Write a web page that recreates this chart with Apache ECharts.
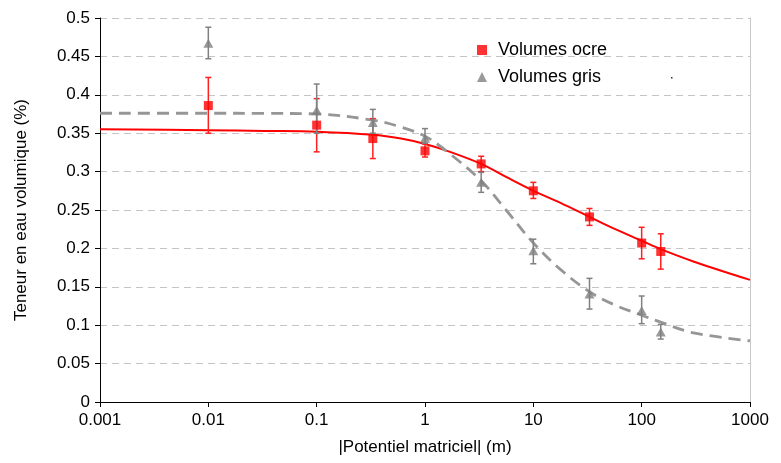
<!DOCTYPE html>
<html>
<head>
<meta charset="utf-8">
<script src="https://cdn.jsdelivr.net/npm/echarts@6/dist/echarts.min.js"></script>
<style>
html,body{margin:0;padding:0;background:#fff;}
#chart{width:781px;height:463px;}
</style>
</head>
<body>
<div id="chart"></div>
<script>
// Measured points (|Potentiel matriciel| in m)
var pointX = [0.01, 0.1, 0.33, 1, 3.3, 10, 33, 100, 150];

var ocreY    = [0.386, 0.3605, 0.343, 0.327, 0.310, 0.275, 0.241, 0.207, 0.196];
var ocreLow  = [0.350, 0.3257, 0.317, 0.319, 0.300, 0.265, 0.230, 0.1865, 0.173];
var ocreHigh = [0.4226, 0.395, 0.369, 0.336, 0.320, 0.286, 0.252, 0.2275, 0.219];

var grisY    = [0.467, 0.380, 0.364, 0.3435, 0.286, 0.197, 0.1405, 0.119, 0.091];
var grisLow  = [0.447, 0.350, 0.350, 0.337, 0.273, 0.180, 0.121, 0.102, 0.082];
var grisHigh = [0.488, 0.414, 0.381, 0.356, 0.299, 0.212, 0.161, 0.138, 0.101];

// Fitted curves
var curveX     = [0.001, 0.01, 0.033, 0.1, 0.33, 0.6, 1, 1.6, 3.3, 5.6, 10, 18, 33, 55, 100, 150, 300, 1000];
var curveOcre  = [0.355, 0.354, 0.353, 0.352, 0.348, 0.343, 0.336, 0.327, 0.310, 0.293, 0.275, 0.259, 0.241, 0.226, 0.210, 0.199, 0.183, 0.159];
var curveGris  = [0.376, 0.376, 0.3758, 0.375, 0.367, 0.358, 0.346, 0.326, 0.288, 0.250, 0.207, 0.172, 0.1435, 0.127, 0.113, 0.104, 0.090, 0.0796];

var xTicks = [0.001, 0.01, 0.1, 1, 10, 100, 1000];

function zip(a, b) { return a.map(function (v, i) { return [v, b[i]]; }); }
function zip3(a, b, c) { return a.map(function (v, i) { return [v, b[i], c[i]]; }); }

function errRender(color) {
  return function (params, api) {
    var x = api.value(0);
    var lo = api.coord([x, api.value(1)]);
    var hi = api.coord([x, api.value(2)]);
    var w = 3;
    var st = { stroke: color, lineWidth: 1.5 };
    return {
      type: 'group',
      children: [
        { type: 'line', shape: { x1: lo[0], y1: lo[1], x2: hi[0], y2: hi[1] }, style: st },
        { type: 'line', shape: { x1: lo[0] - w, y1: lo[1], x2: lo[0] + w, y2: lo[1] }, style: st },
        { type: 'line', shape: { x1: hi[0] - w, y1: hi[1], x2: hi[0] + w, y2: hi[1] }, style: st }
      ]
    };
  };
}

var font = 'Liberation Sans, Arial, sans-serif';
var chart = echarts.init(document.getElementById('chart'));
chart.setOption({
  animation: false,
  backgroundColor: '#fff',
  grid: { left: 100, right: 31, top: 18, bottom: 61 },
  legend: {
    orient: 'vertical',
    left: 472, top: 36,
    itemWidth: 10, itemHeight: 10, itemGap: 9,
    textStyle: { fontFamily: font, fontSize: 18, color: '#000', padding: [0, 0, 0, 6] },
    data: ['Volumes ocre', 'Volumes gris']
  },
  xAxis: {
    type: 'log', logBase: 10, min: 0.001, max: 1000,
    name: '|Potentiel matriciel| (m)', nameLocation: 'middle', nameGap: 37,
    nameTextStyle: { fontFamily: font, fontSize: 17, color: '#000' },
    axisLine: { lineStyle: { color: '#000', width: 1 } },
    axisTick: { show: true, length: 5, lineStyle: { color: '#000' } },
    axisLabel: { fontFamily: font, fontSize: 17, color: '#000', margin: 10,
      formatter: function (v) { var r = xTicks.filter(function (t) { return Math.abs(Math.log10(t) - Math.log10(v)) < 1e-6; }); return r.length ? String(r[0]) : ''; } },
    splitLine: { show: false },
    minorTick: { show: false }
  },
  yAxis: [{
    type: 'value', min: 0, max: 0.5, interval: 0.05,
    name: 'Teneur en eau volumique (%)', nameLocation: 'middle', nameGap: 70,
    nameTextStyle: { fontFamily: font, fontSize: 17, color: '#000' },
    axisLine: { show: true, lineStyle: { color: '#000', width: 1 } },
    axisTick: { show: true, length: 5, lineStyle: { color: '#000' } },
    axisLabel: { fontFamily: font, fontSize: 17, color: '#000', margin: 10,
      formatter: function (v) { return String(Math.round(v * 100) / 100); } },
    splitLine: { show: true, lineStyle: { color: '#c4c4c4', type: [7, 5], width: 1 } }
  }, {
    type: 'value', min: 0, max: 0.5, interval: 0.05, position: 'right',
    axisLine: { show: true, lineStyle: { color: '#c8c8c8', width: 1 } },
    axisTick: { show: false }, axisLabel: { show: false }, splitLine: { show: false }
  }],
  series: [
    { type: 'line', name: 'curveOcre', data: zip(curveX, curveOcre), smooth: 0.35, showSymbol: false,
      lineStyle: { color: '#ff0000', width: 2 }, z: 2, silent: true },
    { type: 'line', name: 'curveGris', data: zip(curveX, curveGris), smooth: 0.35, showSymbol: false,
      lineStyle: { color: '#969696', width: 2.8, type: [12, 7] }, z: 2, silent: true },
    { type: 'custom', data: zip3(pointX, ocreLow, ocreHigh), renderItem: errRender('#ff2020'), z: 3, silent: true },
    { type: 'custom', data: zip3(pointX, grisLow, grisHigh), renderItem: errRender('#808080'), z: 3, silent: true },
    { type: 'scatter', name: 'Volumes ocre', data: zip(pointX, ocreY), symbol: 'rect', symbolSize: 9,
      itemStyle: { color: '#ff0000' }, z: 4 },
    { type: 'scatter', name: 'Volumes gris', data: zip(pointX, grisY), symbol: 'triangle', symbolSize: [10, 9],
      itemStyle: { color: '#808080' }, z: 4 }
  ],
  graphic: [{ type: 'rect', shape: { x: 671, y: 77, width: 1.5, height: 1.5 }, style: { fill: '#333' } }]
});
</script>
</body>
</html>
